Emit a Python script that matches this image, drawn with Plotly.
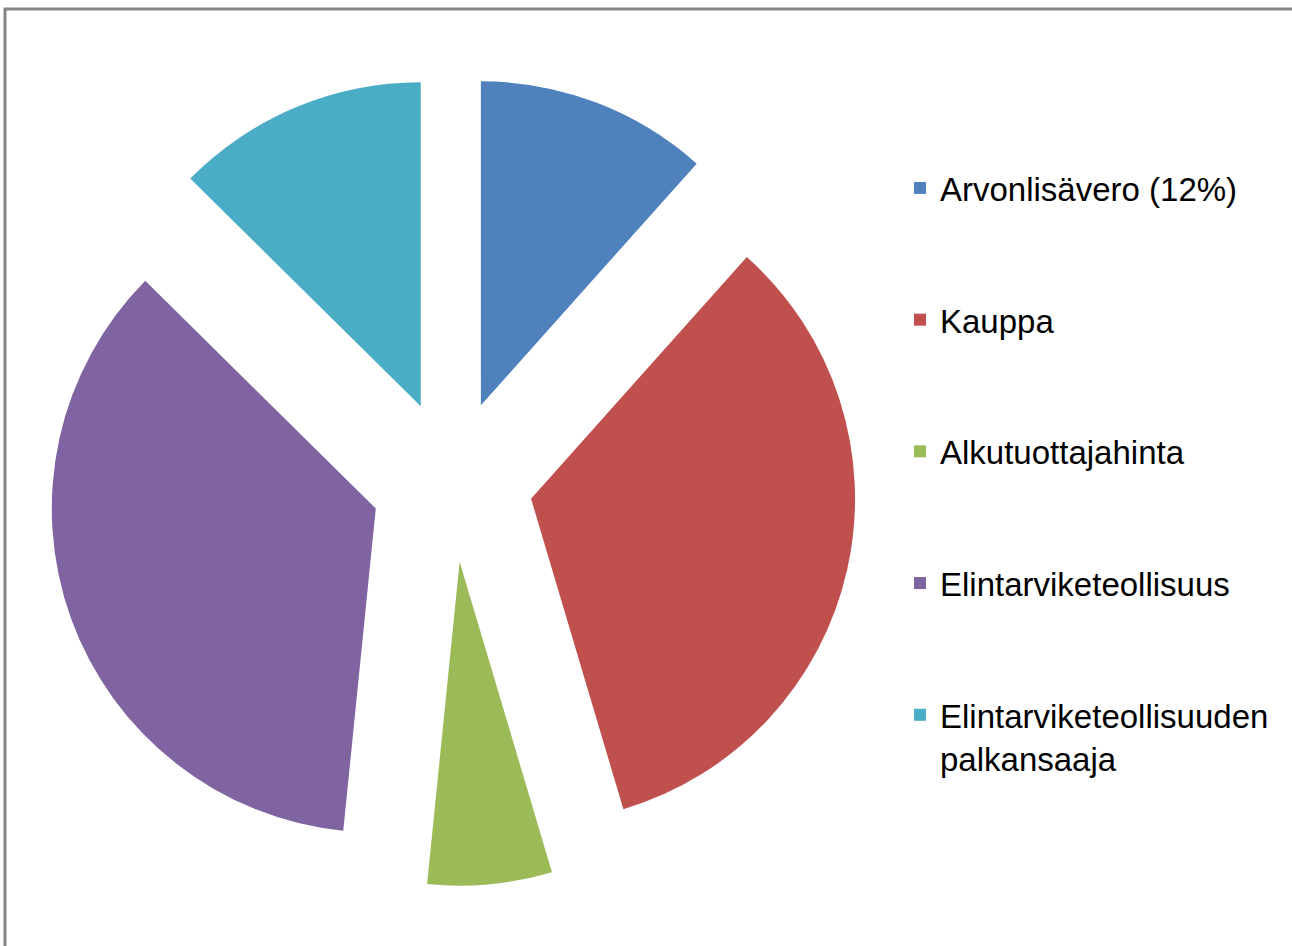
import plotly.graph_objects as go

categories = [
    "Arvonlisävero (12%)",
    "Kauppa",
    "Alkutuottajahinta",
    "Elintarviketeollisuus",
    "Elintarviketeollisuuden<br>palkansaaja",
]
shares = [11.6, 33.8, 6.2, 35.8, 12.6]
colors = ["#4F81BD", "#C0504D", "#9BBB59", "#8064A2", "#4BACC6"]

# legend text padded with blank lines to reproduce the wide legend spacing
legend_labels = [c + "<br>\u00a0<br>\u00a0" if "<br>" not in c else c + "<br>\u00a0"
                 for c in categories]

W, H = 1292, 946
half = 405
cx, cy = 452, 481

fig = go.Figure(
    go.Pie(
        labels=legend_labels,
        values=shares,
        sort=False,
        direction="clockwise",
        rotation=0,
        pull=[0.25] * len(shares),
        marker=dict(colors=colors, line=dict(width=0)),
        textinfo="none",
        hoverinfo="label+percent",
        domain=dict(x=[(cx - half) / W, (cx + half) / W],
                    y=[1 - (cy + half) / H, 1 - (cy - half) / H]),
    )
)

fig.update_layout(
    width=W,
    height=H,
    margin=dict(l=0, r=0, t=0, b=0),
    paper_bgcolor="white",
    plot_bgcolor="white",
    font=dict(family="Liberation Sans, Arial, sans-serif", color="#000000"),
    legend=dict(
        x=900 / W,
        xanchor="left",
        y=1 - 160 / H,
        yanchor="top",
        valign="top",
        font=dict(size=33, family="Liberation Sans, Arial, sans-serif", color="#000000"),
        bgcolor="rgba(0,0,0,0)",
        traceorder="normal",
    ),
    shapes=[
        dict(
            type="rect",
            xref="paper",
            yref="paper",
            x0=5 / W,
            x1=1.05,
            y0=-0.05,
            y1=1 - 9 / H,
            line=dict(color="#858585", width=3),
            fillcolor="rgba(0,0,0,0)",
        )
    ],
)

fig.write_html(
    "out.html",
    config={"displayModeBar": False},
    post_script="document.body.style.margin='0';document.body.style.overflow='hidden';",
)
